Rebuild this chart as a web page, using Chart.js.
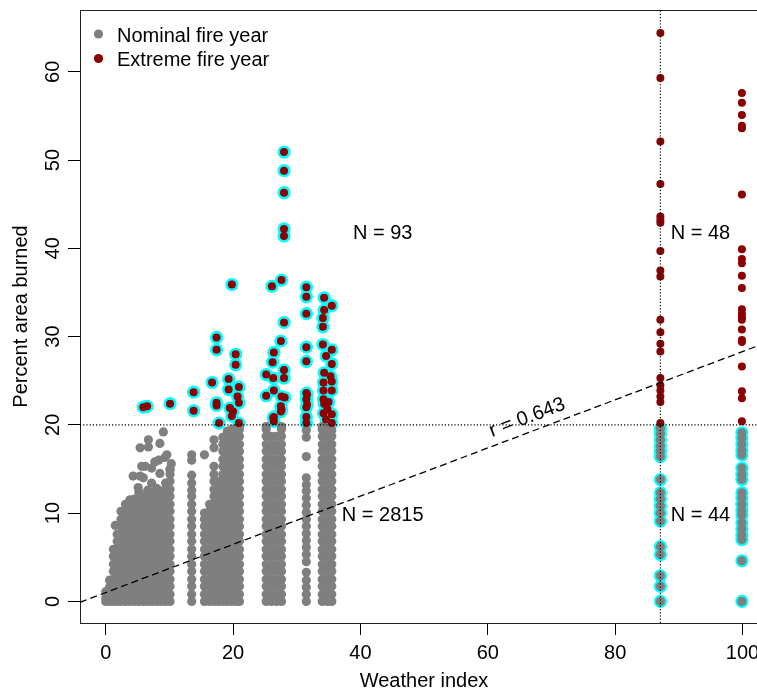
<!DOCTYPE html>
<html>
<head>
<meta charset="utf-8">
<script src="https://cdn.jsdelivr.net/npm/chart.js@4.4.1/dist/chart.umd.min.js"></script>
<style>
  html, body { margin: 0; padding: 0; background: #fff; overflow: hidden; }
  #wrap { width: 780px; height: 691px; }
</style>
</head>
<body>
<div id="wrap"><canvas id="chart" width="780" height="691"></canvas></div>
<script>
// nominal fire years, low weather index: [index, [percent burned ...]]
const nominalLow = [
  [0.0, [0, 0.4, 1.1]],
  [0.6, [0, 0.8, 1.6, 2.4]],
  [1.2, [0, 0.8, 1.7, 2.5, 3.4, 4.2, 5.1, 5.9]],
  [1.8, [0, 0.8, 1.7, 2.5, 3.4, 4.2, 5.1, 5.9, 6.8, 7.6]],
  [2.4, [0, 0.8, 1.7, 2.5, 3.4, 4.2, 5.1, 5.9, 6.8, 7.6, 8.5, 9.3, 10.2]],
  [3.1, [0, 0.8, 1.7, 2.5, 3.4, 4.2, 5.1, 5.9, 6.8, 7.6, 8.5, 9.3, 10.2, 11.0]],
  [3.8, [0, 0.8, 1.7, 2.5, 3.4, 4.2, 5.1, 5.9, 6.8, 7.6, 8.5, 9.3, 10.2, 11.0, 11.5]],
  [4.5, [0, 0.8, 1.7, 2.5, 3.4, 4.2, 5.1, 5.9, 6.8, 7.6, 8.5, 9.3, 10.2, 11.0, 11.6]],
  [5.2, [0, 0.8, 1.7, 2.5, 3.4, 4.2, 5.1, 5.9, 6.8, 7.6, 8.5, 9.3, 10.2, 11.0, 11.9, 12.4]],
  [5.9, [0, 0.8, 1.7, 2.5, 3.4, 4.2, 5.1, 5.9, 6.8, 7.6, 8.5, 9.3, 10.2, 11.0, 11.9]],
  [6.6, [0, 0.8, 1.7, 2.5, 3.4, 4.2, 5.1, 5.9, 6.8, 7.6, 8.5, 9.3, 10.2, 11.0, 11.9, 12.6]],
  [7.3, [0, 0.8, 1.7, 2.5, 3.4, 4.2, 5.1, 5.9, 6.8, 7.6, 8.5, 9.3, 10.2, 11.0, 11.9, 12.3]],
  [8.0, [0, 0.8, 1.7, 2.5, 3.4, 4.2, 5.1, 5.9, 6.8, 7.6, 8.5, 9.3, 10.2, 11.0, 11.9, 12.8]],
  [8.7, [0, 0.8, 1.7, 2.5, 3.4, 4.2, 5.1, 5.9, 6.8, 7.6, 8.5, 9.3, 10.2, 11.0, 11.9, 12.5]],
  [9.4, [0, 0.8, 1.7, 2.5, 3.4, 4.2, 5.1, 5.9, 6.8, 7.6, 8.5, 9.3, 10.2, 11.0, 11.9, 12.7, 13.4]],
  [10.1, [0, 0.8, 1.7, 2.5, 3.4, 4.2, 5.1, 5.9, 6.8, 7.6, 8.5, 9.3, 10.2, 11.0, 11.9, 12.7, 13.6, 14.4, 15.0]]
];
// loose points sitting above the low-index block: [index, percent]
const nominalLoose = [
  [1.5, 8.6], [4.3, 14.2], [5.1, 12.9], [5.4, 14.2], [5.65, 15.3], [5.4, 17.4],
  [5.9, 14.0], [6.2, 15.3], [6.7, 18.3], [6.7, 17.5], [7.2, 15.1], [7.2, 13.4],
  [7.7, 15.8], [8.3, 16.0], [8.5, 17.9], [8.5, 14.5], [9.05, 19.2], [9.3, 16.3],
  [9.6, 16.6], [10.1, 14.9], [10.3, 15.6]
];
const nominalMid = [
  [13.5, [0, 0.8, 1.7, 2.5, 3.4, 4.2, 5.1, 5.9, 6.8, 7.6, 8.5, 9.3, 10.2, 11.0, 11.9, 12.6, 13.4, 14.3, 16.0, 16.6]],
  [15.5, [0, 0.8, 1.7, 2.5, 3.4, 4.2, 5.1, 5.9, 6.8, 7.6, 8.5, 9.3, 10.0, 16.6]],
  [16.3, [0, 0.8, 1.7, 2.5, 3.4, 4.2, 5.1, 5.9, 6.8, 7.6, 8.5, 9.3, 10.2, 11.0]],
  [17.0, [0, 0.8, 1.7, 2.5, 3.4, 4.2, 5.1, 5.9, 6.8, 7.6, 8.5, 9.3, 10.2, 11.0, 11.9, 12.7, 13.6, 14.4, 15.3, 17.4, 18.3]],
  [17.7, [0, 0.8, 1.7, 2.5, 3.4, 4.2, 5.1, 5.9, 6.8, 7.6, 8.5, 9.3, 10.2, 11.0, 11.9, 12.7, 13.6]],
  [18.4, [0, 0.8, 1.7, 2.5, 3.4, 4.2, 5.1, 5.9, 6.8, 7.6, 8.5, 9.3, 10.2, 11.0, 11.9, 12.7, 13.6, 14.4, 15.3, 16.1, 17.0, 17.8, 18.6]],
  [19.1, [0, 0.8, 1.7, 2.5, 3.4, 4.2, 5.1, 5.9, 6.8, 7.6, 8.5, 9.3, 10.2, 11.0, 11.9, 12.7, 13.6, 14.4, 15.3, 16.1, 17.0, 17.8, 18.7, 19.3]],
  [19.8, [0, 0.8, 1.7, 2.5, 3.4, 4.2, 5.1, 5.9, 6.8, 7.6, 8.5, 9.3, 10.2, 11.0, 11.9, 12.7, 13.6, 14.4, 15.3, 16.1, 17.0, 17.8, 18.7, 19.5]],
  [20.5, [0, 0.8, 1.7, 2.5, 3.4, 4.2, 5.1, 5.9, 6.8, 7.6, 8.5, 9.3, 10.2, 11.0, 11.9, 12.7, 13.6, 14.4, 15.3, 16.1, 17.0, 17.8, 18.7, 19.5]],
  [21.0, [0, 0.8, 1.7, 2.5, 3.4, 4.2, 5.1, 5.9, 6.8, 7.6, 8.5, 9.3, 10.2, 11.0, 11.9, 12.7, 13.6, 14.4, 15.3, 16.1, 17.0, 17.8, 18.7, 19.5, 19.8]]
];
const nominalHigh = [
  [25.2, [0, 0.8, 1.7, 2.5, 3.4, 4.2, 5.1, 5.9, 6.8, 7.6, 8.5, 9.3, 10.2, 11.0, 11.9, 12.7, 13.6, 14.4, 15.3, 16.1, 17.0, 17.8, 18.7, 19.5, 19.8]],
  [26.0, [0, 0.8, 1.7, 2.5, 3.4, 4.2, 5.1, 5.9, 6.8, 7.6, 8.5, 9.3, 10.2, 11.0, 11.9, 12.7, 13.6, 14.4, 15.3, 16.1, 17.0, 17.8, 18.7]],
  [26.8, [0, 0.8, 1.7, 2.5, 3.4, 4.2, 5.1, 5.9, 6.8, 7.6, 8.5, 9.3, 10.2, 11.0, 11.9, 12.7, 13.6, 14.4, 15.3, 16.1, 17.0, 17.8, 18.7]],
  [27.6, [0, 0.8, 1.7, 2.5, 3.4, 4.2, 5.1, 5.9, 6.8, 7.6, 8.5, 9.3, 10.2, 11.0, 11.9, 12.7, 13.6, 14.4, 15.3, 16.1, 17.0, 17.8, 18.7, 19.5, 19.8]],
  [31.5, [0, 0.8, 1.6, 2.4, 3.3, 4.5, 5.3, 6.1, 6.9, 7.7, 8.5, 9.3, 10.1, 10.9, 11.7, 12.5, 13.2, 14.0, 16.4, 18.6, 19.4]],
  [34.0, [0, 0.8, 1.7, 2.5, 3.4, 4.2, 5.1, 5.9, 6.8, 7.6, 8.5, 9.3, 10.2, 11.0, 11.9, 12.7, 13.6, 14.4, 15.3, 16.1, 17.0, 17.8, 18.7, 19.5, 19.8]],
  [34.8, [0, 0.8, 1.7, 2.5, 3.4, 4.2, 5.1, 5.9, 6.8, 7.6, 8.5, 9.3, 10.2, 11.0, 11.9, 12.7, 13.6, 14.4, 15.3, 16.1, 17.0, 17.8, 18.7, 19.5]],
  [35.5, [0, 0.8, 1.7, 2.5, 3.4, 4.2, 5.1, 5.9, 6.8, 7.6, 8.5, 9.3, 10.2, 11.0, 11.9, 12.7, 13.6, 14.4, 15.3, 16.1, 17.0, 17.8, 18.7, 19.4]]
];
// nominal years at the two high index values (below the 20 % line)
const nominalAt87 = [19.6, 19.0, 18.3, 17.6, 17.0, 16.4, 13.8, 12.3, 11.6, 10.8, 10.0, 9.1, 6.2, 5.3, 2.9, 1.7, 0.0];
const nominalAt100 = [19.1, 18.5, 17.8, 17.1, 16.6, 15.1, 14.4, 13.8, 12.3, 11.7, 11.0, 10.3, 9.8, 8.9, 8.2, 7.5, 7.0, 4.6, 0.0];

// extreme fire years with low index: [index, percent]
const extremeLow = [
  [28.0, 50.9], [28.0, 48.8], [28.0, 46.3], [28.0, 42.2], [28.0, 41.4],
  [19.8, 35.9], [26.1, 35.7], [27.6, 36.4], [31.5, 35.6], [31.5, 34.5],
  [34.3, 34.4], [35.5, 33.5], [34.3, 33.0], [31.5, 32.6], [34.1, 32.1],
  [34.1, 31.1], [28.0, 31.6], [27.5, 29.5], [31.5, 28.8], [34.1, 29.1],
  [35.5, 28.5], [31.5, 27.2], [35.5, 26.9], [17.4, 29.9], [17.4, 28.5],
  [20.4, 28.0], [20.4, 26.8], [26.4, 28.2], [26.2, 27.1], [25.2, 25.7],
  [26.3, 25.3], [28.0, 26.2], [28.0, 25.3], [34.3, 25.9], [34.2, 24.8],
  [35.5, 24.9], [34.2, 23.9], [35.5, 23.9], [34.2, 22.9], [34.3, 22.4],
  [34.2, 21.3], [35.5, 21.2], [35.5, 20.2], [31.5, 23.6], [31.5, 22.9],
  [31.5, 22.0], [31.5, 20.9], [31.5, 20.2], [25.2, 23.3], [26.4, 23.9],
  [28.1, 23.1], [27.5, 22.1], [27.5, 21.5], [26.4, 20.9], [26.4, 20.4],
  [13.8, 23.7], [13.8, 21.6], [16.7, 24.8], [17.4, 22.5], [17.4, 22.2],
  [17.8, 20.2], [19.3, 25.2], [19.3, 24.0], [20.9, 24.3], [20.7, 23.2],
  [20.9, 22.5], [19.5, 21.9], [20.0, 21.5], [19.8, 21.0], [20.9, 20.2],
  [5.9, 22.0], [6.5, 22.1], [10.1, 22.4],
  [27.6, 23.2], [27.6, 21.7], [26.3, 20.8], [31.6, 23.4], [31.6, 22.3],
  [34.8, 21.8], [35.0, 22.6], [34.6, 20.6], [35.3, 25.5], [34.6, 27.8]
];
const extremeAt87 = [64.4, 59.3, 52.1, 47.3, 43.6, 43.2, 42.9, 39.7, 37.5, 36.8, 31.9, 30.5,
  29.2, 28.3, 25.3, 24.5, 23.9, 23.2, 22.6, 20.2];
const extremeAt100 = [57.6, 56.5, 55.1, 53.9, 53.6, 46.1, 39.9, 38.8, 38.3, 36.9, 35.5, 33.1,
  32.6, 32.2, 31.9, 30.8, 29.6, 29.4, 26.6, 23.8, 23.0, 20.4];

const highIndex = [87.1, 99.9];
const burnThreshold = 20;
const fitIntercept = 1.0, fitSlope = 0.273, fitR = 0.643;
const xTicks = [0, 20, 40, 60, 80, 100];
const yTicks = [0, 10, 20, 30, 40, 50, 60];

// group counts written on the plot
const counts = [
  {text: 'N = 93', x: 43.5, y: 41.7},
  {text: 'N = 48', x: 93.4, y: 41.7},
  {text: 'N = 2815', x: 43.5, y: 9.7},
  {text: 'N = 44', x: 93.4, y: 9.7}
];
const rLabelAt = {x: 66.2, y: 20.8};

const FONT = '"Liberation Sans", Arial, Helvetica, sans-serif';
const nominalColor = '#7f7f7f';
const extremeColor = '#8b0000';

const cols = list => list.flatMap(([x, ys]) => ys.map(y => ({x, y})));
const pairs = list => list.map(([x, y]) => ({x, y}));
const column = (x, ys) => ys.map(y => ({x, y}));

const nominalPts = [
  ...cols(nominalLow), ...pairs(nominalLoose), ...cols(nominalMid), ...cols(nominalHigh),
  ...column(highIndex[0], nominalAt87), ...column(highIndex[1], nominalAt100)
];
const extremePts = [
  ...pairs(extremeLow), ...column(highIndex[0], extremeAt87), ...column(highIndex[1], extremeAt100)
];
// cyan rings mark the off-diagonal cases
const ringPts = [
  ...pairs(extremeLow), ...column(highIndex[0], nominalAt87), ...column(highIndex[1], nominalAt100)
];

const X_MIN = -4.04, X_MAX = 104, Y_MIN = -2.45, Y_MAX = 67.0;
const fitAt = x => fitIntercept + fitSlope * x;

const frameAndText = {
  id: 'frameAndText',
  beforeDatasetsDraw(chart) {
    const {ctx, chartArea: a} = chart;
    ctx.save();
    ctx.strokeStyle = '#222';
    ctx.lineWidth = 1;
    ctx.strokeRect(a.left + 0.5, a.top + 0.5, a.right - a.left, a.bottom - a.top);
    ctx.restore();
  },
  afterDraw(chart) {
    const {ctx, scales: {x, y}} = chart;
    ctx.save();
    ctx.font = '20px ' + FONT;
    ctx.fillStyle = '#000';
    ctx.textAlign = 'center';
    ctx.textBaseline = 'middle';
    counts.forEach(c => ctx.fillText(c.text, x.getPixelForValue(c.x), y.getPixelForValue(c.y)));

    // correlation label follows the fit line
    const ang = Math.atan2(y.getPixelForValue(fitAt(100)) - y.getPixelForValue(fitAt(0)),
                           x.getPixelForValue(100) - x.getPixelForValue(0));
    ctx.save();
    ctx.translate(x.getPixelForValue(rLabelAt.x), y.getPixelForValue(rLabelAt.y));
    ctx.rotate(ang);
    ctx.fillText('r = ' + fitR, 0, 0);
    ctx.restore();

    // legend, top left inside the frame
    const items = [chart.data.datasets[4], chart.data.datasets[3]];
    ctx.textAlign = 'left';
    ctx.textBaseline = 'alphabetic';
    items.forEach((ds, i) => {
      const cy = 34 + i * 24.5;
      ctx.fillStyle = ds.backgroundColor;
      ctx.beginPath();
      ctx.arc(98.5, cy, 4.6, 0, Math.PI * 2);
      ctx.fill();
      ctx.fillStyle = '#000';
      ctx.fillText(ds.label, 117, cy + 7.5);
    });
    ctx.restore();
  }
};

const tickFont = {family: FONT, size: 20, lineHeight: 1};

new Chart(document.getElementById('chart').getContext('2d'), {
  type: 'scatter',
  data: {
    datasets: [
      {
        label: 'fit',
        data: [{x: X_MIN, y: fitAt(X_MIN)}, {x: X_MAX, y: fitAt(X_MAX)}],
        showLine: true, borderColor: '#000', borderWidth: 1.3, borderDash: [7, 4],
        pointRadius: 0, order: 0
      },
      {
        label: 'threshold',
        data: [{x: X_MIN, y: burnThreshold}, {x: X_MAX, y: burnThreshold}],
        showLine: true, borderColor: '#000', borderWidth: 1.2, borderDash: [1.2, 2],
        pointRadius: 0, order: 0
      },
      {
        label: 'cut',
        data: [{x: highIndex[0], y: Y_MIN}, {x: highIndex[0], y: Y_MAX}],
        showLine: true, borderColor: '#000', borderWidth: 1.2, borderDash: [1.2, 2],
        pointRadius: 0, order: 0
      },
      {
        label: 'Extreme fire year',
        data: extremePts,
        backgroundColor: extremeColor, pointRadius: 4, pointBorderWidth: 0, order: 1
      },
      {
        label: 'Nominal fire year',
        data: nominalPts,
        backgroundColor: nominalColor, pointRadius: 4.6, pointBorderWidth: 0, order: 2
      },
      {
        label: 'ring',
        data: ringPts,
        backgroundColor: '#00ffff', pointRadius: 6.6, pointBorderWidth: 0, order: 3
      }
    ]
  },
  options: {
    responsive: false,
    animation: false,
    devicePixelRatio: 1,
    events: [],
    layout: {padding: {top: 10, right: 12, bottom: 0, left: 0}},
    plugins: {legend: {display: false}, tooltip: {enabled: false}},
    scales: {
      x: {
        type: 'linear', min: X_MIN, max: X_MAX,
        afterBuildTicks: s => { s.ticks = xTicks.map(v => ({value: v})); },
        afterFit: s => { s.height = 68; s.paddingLeft = 0; s.paddingRight = 0; },
        ticks: {font: tickFont, color: '#000', padding: 8, maxRotation: 0, autoSkip: false},
        grid: {drawOnChartArea: false, drawTicks: true, tickLength: 12, tickColor: '#000', lineWidth: 1},
        border: {display: false},
        title: {display: true, text: 'Weather index', color: '#000', font: tickFont, padding: {top: 0, bottom: 0}}
      },
      y: {
        type: 'linear', min: Y_MIN, max: Y_MAX,
        afterBuildTicks: s => { s.ticks = yTicks.map(v => ({value: v})); },
        afterFit: s => { s.width = 80; s.paddingTop = 0; s.paddingBottom = 0; },
        ticks: {font: tickFont, color: '#000', padding: 3, minRotation: 90, maxRotation: 90, crossAlign: 'center', autoSkip: false},
        grid: {drawOnChartArea: false, drawTicks: true, tickLength: 12, tickColor: '#000', lineWidth: 1},
        border: {display: false},
        title: {display: true, text: 'Percent area burned', color: '#000', font: tickFont, padding: {top: 11, bottom: 0}}
      }
    }
  },
  plugins: [frameAndText]
});
</script>
</body>
</html>
